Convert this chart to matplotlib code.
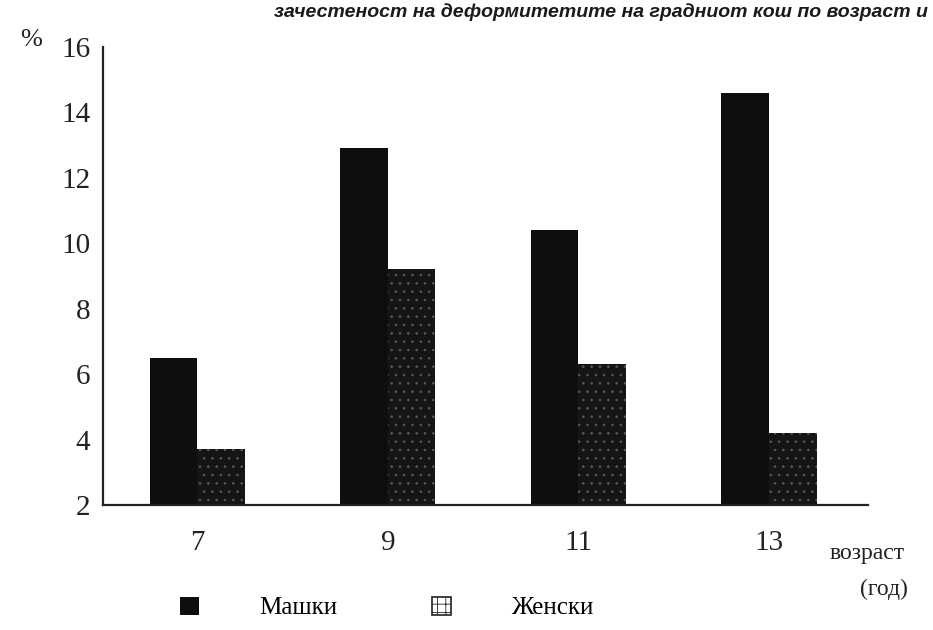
#!/usr/bin/env python3
import matplotlib
matplotlib.use("Agg")
import matplotlib.pyplot as plt
from matplotlib.patches import Patch

### data
ages = ["7", "9", "11", "13"]
boys = [6.5, 12.9, 10.4, 14.6]     # Машки
girls = [3.7, 9.2, 6.3, 4.2]       # Женски
y_ticks = [2, 4, 6, 8, 10, 12, 14, 16]

title_text = "зачестеност на деформитетите на градниот кош по возраст и"

### styles
boy_color = "#0e0e0e"
girl_color = "#151515"
girl_hatch_color = "#5a5a5a"
BarWidth = 0.25

plt.rcParams["font.family"] = ["Liberation Serif", "DejaVu Serif"]
plt.rcParams["hatch.linewidth"] = 0.6

fig = plt.figure(figsize=(9.33, 6.3), dpi=100)
ax = fig.add_axes([103 / 933, 1 - 505 / 630, (868 - 103) / 933, (505 - 47) / 630])

x = list(range(len(ages)))
ax.bar([i - BarWidth / 2 for i in x], boys, width=BarWidth, color=boy_color,
       linewidth=0, label="Машки")
ax.bar([i + BarWidth / 2 for i in x], girls, width=BarWidth, color=girl_color,
       edgecolor=girl_hatch_color, hatch="..", linewidth=0, label="Женски")

ax.set_ylim(2, 16)
ax.set_xlim(-0.495, 3.52)
ax.set_yticks(y_ticks)
ax.set_xticks(x)
ax.set_xticklabels(ages)

for side in ["top", "right"]:
    ax.spines[side].set_visible(False)
for side in ["left", "bottom"]:
    ax.spines[side].set_linewidth(1.6)
    ax.spines[side].set_color("#222222")

ax.tick_params(axis="y", length=0, pad=9, labelsize=21, colors="#222222")
ax.tick_params(axis="x", length=0, pad=18, labelsize=21, colors="#222222")

# axis captions
fig.text(20 / 933, 1 - 40 / 630, "%", fontsize=19, va="center", ha="left", color="#222222")
fig.text(830 / 933, 1 - 553 / 630, "возраст", fontsize=17, va="center", ha="left", color="#222222")
fig.text(884 / 933, 1 - 589 / 630, "(год)", fontsize=17, va="center", ha="center", color="#222222")

# scanned caption at the very top
fig.text(928 / 933, 1 - 12 / 630, title_text, fontsize=14, style="italic",
         fontweight="bold", family=["Liberation Sans", "DejaVu Sans"],
         va="center", ha="right", color="#1a1a1a")

handles = [
    Patch(facecolor=boy_color, linewidth=0, label="Машки"),
    Patch(facecolor="white", edgecolor="#222222", hatch="++", linewidth=1.2, label="Женски"),
]
fig.legend(handles=handles, loc="center left", bbox_to_anchor=(180 / 933, 1 - 608 / 630),
           ncol=2, frameon=False, fontsize=18, handlelength=0.75, handleheight=0.75,
           handletextpad=2.4, columnspacing=3.8, borderpad=0, borderaxespad=0)

fig.savefig("out.png", dpi=100)
